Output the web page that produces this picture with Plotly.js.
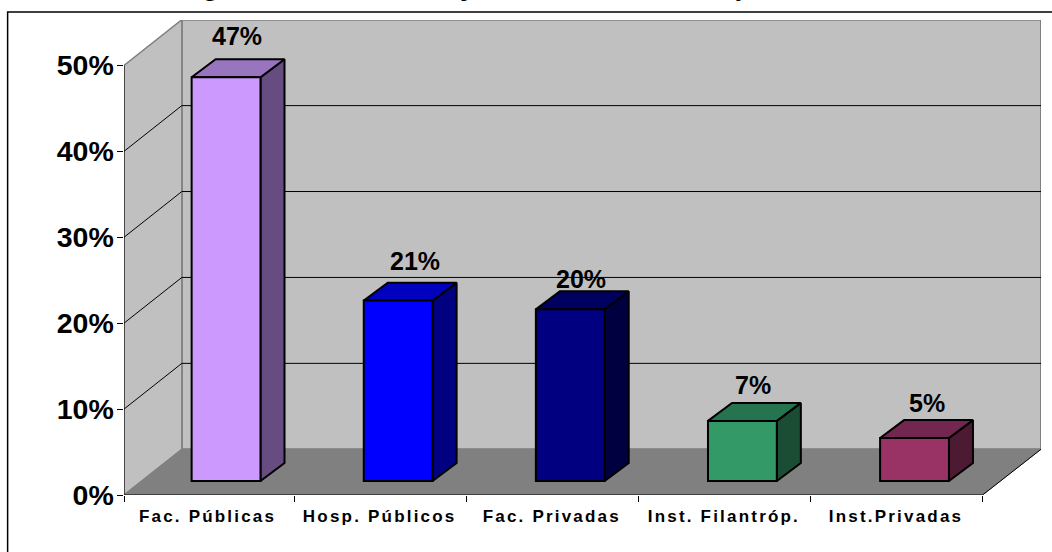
<!DOCTYPE html>
<html>
<head>
<meta charset="utf-8">
<script src="https://cdn.plot.ly/plotly-3.0.1.min.js"></script>
<style>
html,body{margin:0;padding:0;background:#fff;overflow:hidden}
#chart{width:1052px;height:552px}
g.x2tick text{letter-spacing:2.2px}
</style>
</head>
<body>
<div id="chart"></div>
<script>
// --- data ---
const categories = ["Fac. Públicas", "Hosp. Públicos", "Fac. Privadas", "Inst. Filantróp.", "Inst.Privadas"];
const values = [47, 21, 20, 7, 5];
const valueLabels = ["47%", "21%", "20%", "7%", "5%"];
const yTicks = [0, 10, 20, 30, 40, 50];
const yTickLabels = ["0%", "10%", "20%", "30%", "40%", "50%"];
const titleText = "Origem dos Novos Projetos de Pós-Graduação";

// --- styles ---
const frontColors = ["#CC99FF", "#0000FF", "#000080", "#339966", "#993366"];
const topColors = ["#9974BF", "#0000BF", "#000060", "#267350", "#732650"];
const sideColors = ["#664C80", "#000080", "#000040", "#1A4D33", "#4D1A33"];
const labelNudgeX = [-1.5, 5, -1, -1, 0];
const labelNudgeY = [41.7, 40, 30, 36, 34.7];

// --- page geometry ---
const W = 1052, H = 552;
const m = {l: 124.3, r: 11.3, t: 19.5, b: 56.7, pad: 0};
const plotW = W - m.l - m.r, plotH = H - m.t - m.b;
const pxPerCat = 172, pxPerPct = 8.606;
const xMin = -0.5, xMax = xMin + plotW / pxPerCat;
const yMax = plotH / pxPerPct;
const wallDX = 57.8 / pxPerCat, wallDY = 45.8 / pxPerPct;
const barOffset = -18.4 / pxPerCat, barWidth = 68.8 / pxPerCat;
const barBase = 14 / pxPerPct, barDX = 24 / pxPerCat, barDY = 18 / pxPerPct;
const tickShift = 2 / pxPerCat, labelShift = 2.5 / pxPerCat;
const yTop = Math.max(...yTicks);
const xEnd = xMin + categories.length - tickShift;
const AXIS = "#000000", EDGE = "#808080", WALL = "#C0C0C0", FLOOR = "#808080";

const poly = (x, y, fill, color, width) => ({
  type: "scatter", mode: "lines", x, y, fill: "toself", fillcolor: fill,
  line: {color: color, width: width, simplify: false}, cliponaxis: false,
  hoverinfo: "skip", showlegend: false, xaxis: "x", yaxis: "y"
});
const line = (x, y, color, width) => ({
  type: "scatter", mode: "lines", x, y,
  line: {color: color, width: width, simplify: false}, cliponaxis: false,
  hoverinfo: "skip", showlegend: false, xaxis: "x", yaxis: "y"
});

const traces = [];
// back wall, left wall, floor
traces.push(poly([xMin + wallDX, xMax, xMax, xMin + wallDX, xMin + wallDX],
                 [wallDY, wallDY, yTop + wallDY, yTop + wallDY, wallDY], WALL, EDGE, 2));
traces.push(poly([xMin, xMin + wallDX, xMin + wallDX, xMin, xMin],
                 [0, wallDY, yTop + wallDY, yTop, 0], WALL, EDGE, 1.5));
traces.push(poly([xMin, xEnd, xMax, xMin + wallDX, xMin],
                 [0, 0, wallDY, wallDY, 0], FLOOR, FLOOR, 1));
// gridlines
yTicks.filter(t => t > 0 && t < yTop).forEach(t => {
  traces.push(line([xMin, xMin + wallDX, xMax], [t, t + wallDY, t + wallDY], AXIS, 1));
});
// axis lines
traces.push(line([xMin, xMin], [0, yTop], AXIS, 1));
traces.push(line([xMin, xEnd, xMax], [0, 0, wallDY], AXIS, 1));
// 3D faces of each bar
categories.forEach((c, i) => {
  const l = i + barOffset, r = l + barWidth, b = barBase, t = barBase + values[i];
  traces.push(poly([r, r + barDX, r + barDX, r, r], [b, b + barDY, t + barDY, t, b], sideColors[i], "#000", 2));
  traces.push(poly([l, r, r + barDX, l + barDX, l], [t, t, t + barDY, t + barDY, t], topColors[i], "#000", 2));
});
// front faces
traces.push({
  type: "bar", x: categories, y: values, base: barBase, width: barWidth, offset: barOffset + labelShift,
  marker: {color: frontColors, line: {color: "#000", width: 2}},
  hoverinfo: "skip", showlegend: false, xaxis: "x2", yaxis: "y", cliponaxis: false
});

const annotations = values.map((v, i) => ({
  xref: "x", yref: "y", x: i + barOffset + (barWidth + barDX) / 2, y: barBase + v,
  xshift: labelNudgeX[i], yshift: labelNudgeY[i],
  text: valueLabels[i], showarrow: false, xanchor: "center", yanchor: "middle",
  font: {family: "Liberation Sans", size: 25, color: "#000", weight: 700}
}));
annotations.push({
  xref: "paper", yref: "paper", x: (471 - m.l) / plotW, y: (H - m.b - 2.7) / plotH,
  text: titleText, showarrow: false, xanchor: "center", yanchor: "bottom",
  font: {family: "Liberation Sans", size: 27.7, color: "#000", weight: 700}
});

const layout = {
  width: W, height: H, margin: m, paper_bgcolor: "#fff", plot_bgcolor: "rgba(0,0,0,0)",
  showlegend: false, barmode: "overlay", annotations,
  font: {family: "Liberation Sans", color: "#000"},
  shapes: [{
    type: "rect", xref: "paper", yref: "paper", layer: "below",
    x0: (8 - m.l) / plotW, x1: 1.2, y0: -0.3, y1: (H - m.b - 11.5) / plotH,
    line: {color: "#000", width: 1.5}, fillcolor: "rgba(0,0,0,0)"
  }],
  xaxis: {
    type: "linear", range: [xMin, xMax], showgrid: false, zeroline: false, showline: false,
    tickmode: "array",
    tickvals: [xMin].concat(categories.map((c, i) => i + 0.5 - tickShift)),
    ticktext: [""].concat(categories.map(() => "")),
    ticks: "outside", ticklen: 6, tickwidth: 1, tickcolor: "#000", showticklabels: false
  },
  xaxis2: {
    type: "category", categoryorder: "array", categoryarray: categories,
    overlaying: "x", anchor: "y", side: "bottom", range: [xMin + labelShift, xMax + labelShift],
    showgrid: false, zeroline: false, showline: false, ticks: "", ticklabelstandoff: 9,
    tickfont: {family: "Liberation Sans", size: 17, color: "#000", weight: 700}, tickangle: 0
  },
  yaxis: {
    range: [0, yMax], showgrid: false, zeroline: false, showline: false,
    tickmode: "array", tickvals: yTicks, ticktext: yTickLabels,
    ticks: "outside", ticklen: 6.5, tickwidth: 1, tickcolor: "#000", ticklabelstandoff: -3,
    tickfont: {family: "Liberation Sans", size: 28.5, color: "#000", weight: 700}
  }
};
Plotly.newPlot("chart", traces, layout, {displayModeBar: false, staticPlot: true});
</script>
</body>
</html>
